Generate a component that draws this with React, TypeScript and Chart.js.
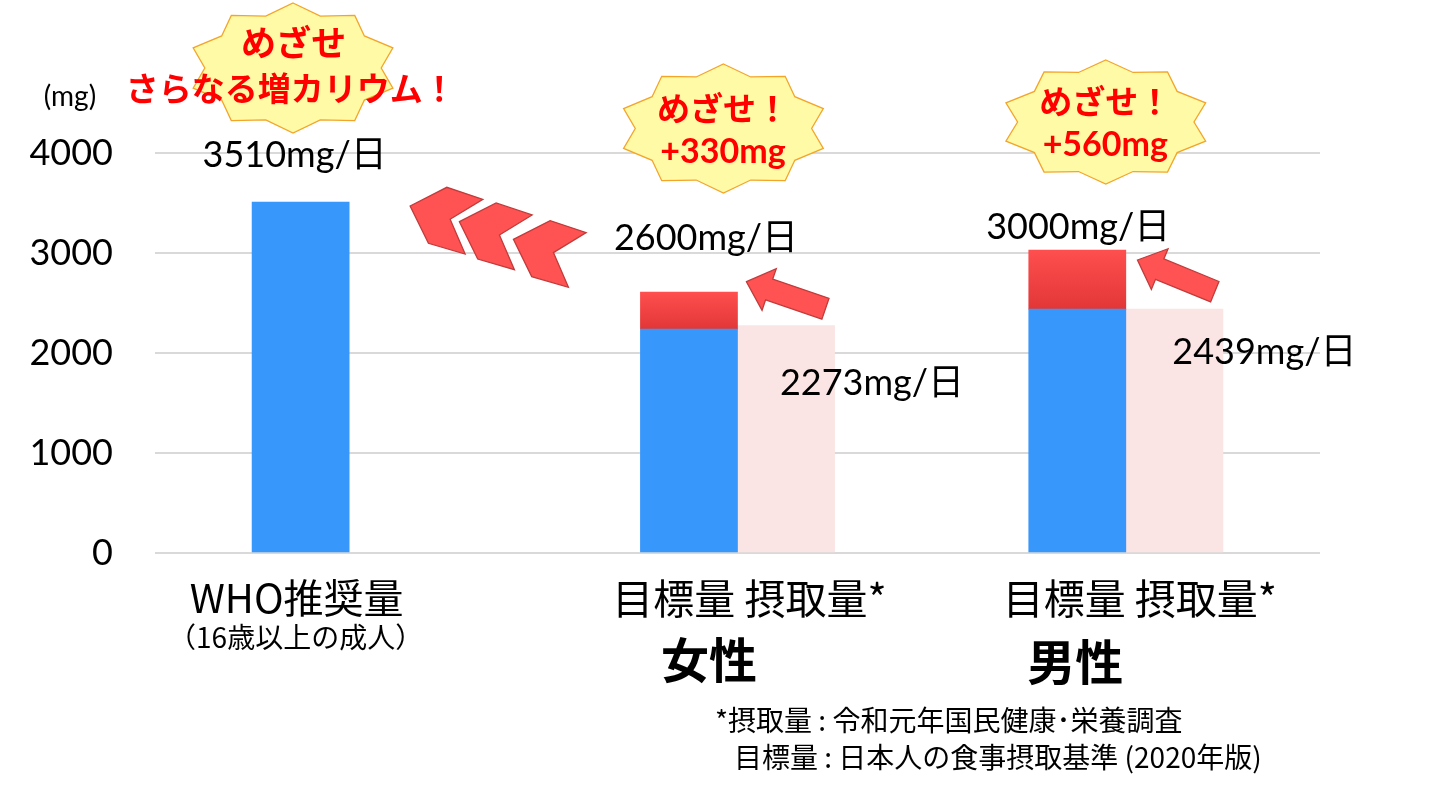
import { useEffect, useRef } from "react";
import { Chart, registerables } from "chart.js";

Chart.register(...registerables);

// ---- data ----
const categories = ["", "WHO推奨量", "", "", "", "女性 目標量", "女性 摂取量", "", "", "男性 目標量", "男性 摂取量", ""];
const baseValues = [null, 3510, null, null, null, 2240, null, null, null, 2439, null, null];
const increaseValues = [null, null, null, null, null, 370, null, null, null, 590, null, null];
const intakeValues = [null, null, null, null, null, null, 2273, null, null, null, 2439, null];
const yTickValues = [0, 1000, 2000, 3000, 4000];
const valueLabels = ["3510mg/日", "2600mg/日", "3000mg/日", "2273mg/日", "2439mg/日"];
const burstTexts = [
  ["めざせ", "さらなる増カリウム！"],
  ["めざせ！", "+330mg"],
  ["めざせ！", "+560mg"],
];
const footnotes = ["*摂取量 : 令和元年国民健康･栄養調査", "目標量 : 日本人の食事摂取基準 (2020年版)"];

const BLUE = "#3797fb";
const PINK = "#fbe4e4";
const NUM_FONT = "Lato, 'Noto Sans CJK JP', sans-serif";
const JP_FONT = "'Noto Sans CJK JP', sans-serif";

function drawStar(ctx: CanvasRenderingContext2D, cx: number, cy: number, rx: number, ry: number) {
  const n = 10;
  const inner = 0.84;
  ctx.beginPath();
  for (let k = 0; k < 2 * n; k++) {
    const a = -Math.PI / 2 + (k * Math.PI) / n;
    const r = k % 2 === 0 ? 1 : inner;
    const px = cx + Math.cos(a) * rx * r;
    const py = cy + Math.sin(a) * ry * r;
    if (k === 0) ctx.moveTo(px, py);
    else ctx.lineTo(px, py);
  }
  ctx.closePath();
  ctx.fillStyle = "#fffaa6";
  ctx.fill();
  ctx.strokeStyle = "#f3a52a";
  ctx.lineWidth = 1.3;
  ctx.stroke();
}

function drawChevron(ctx: CanvasRenderingContext2D, tx: number, ty: number) {
  const pts = [
    [0, 0],
    [36.7, -18.7],
    [72.7, -6.7],
    [40, 13.3],
    [55, 48],
    [18.3, 37.3],
  ];
  ctx.beginPath();
  pts.forEach(([dx, dy], i) => (i === 0 ? ctx.moveTo(tx + dx, ty + dy) : ctx.lineTo(tx + dx, ty + dy)));
  ctx.closePath();
  ctx.fillStyle = "#ff5353";
  ctx.fill();
  ctx.strokeStyle = "#c23b3b";
  ctx.lineWidth = 1.3;
  ctx.stroke();
}

function drawBlockArrow(ctx: CanvasRenderingContext2D, tipX: number, tipY: number, tailX: number, tailY: number) {
  const dx = tipX - tailX;
  const dy = tipY - tailY;
  const len = Math.hypot(dx, dy);
  const ux = dx / len;
  const uy = dy / len;
  const nx = -uy;
  const ny = ux;
  const headLen = 24;
  const headHalf = 22;
  const shaftHalf = 11;
  const hx = tipX - ux * headLen;
  const hy = tipY - uy * headLen;
  const pts = [
    [tipX, tipY],
    [hx + nx * headHalf, hy + ny * headHalf],
    [hx + nx * shaftHalf, hy + ny * shaftHalf],
    [tailX + nx * shaftHalf, tailY + ny * shaftHalf],
    [tailX - nx * shaftHalf, tailY - ny * shaftHalf],
    [hx - nx * shaftHalf, hy - ny * shaftHalf],
    [hx - nx * headHalf, hy - ny * headHalf],
  ];
  ctx.beginPath();
  pts.forEach(([px, py], i) => (i === 0 ? ctx.moveTo(px, py) : ctx.lineTo(px, py)));
  ctx.closePath();
  ctx.fillStyle = "#ff5353";
  ctx.fill();
  ctx.strokeStyle = "#c23b3b";
  ctx.lineWidth = 1.3;
  ctx.stroke();
}

const annotationPlugin = {
  id: "annotations",
  afterDatasetsDraw(chart: any) {
    const ctx: CanvasRenderingContext2D = chart.ctx;
    const xs = chart.scales.x;
    const ys = chart.scales.y;
    const X = (i: number, dx = 0) => xs.getPixelForValue(i) + dx;
    const Y = (v: number) => ys.getPixelForValue(v);
    ctx.save();

    // chevrons (WHO)
    const c0x = X(1, 109.5);
    const c0y = Y(3470);
    drawChevron(ctx, c0x, c0y);
    drawChevron(ctx, c0x + 49.3, c0y + 15.7);
    drawChevron(ctx, c0x + 103.3, c0y + 33.3);

    // block arrows
    drawBlockArrow(ctx, X(5, 57.5), Y(2713), X(5, 136.5), Y(2443));
    drawBlockArrow(ctx, X(9, 60.2), Y(2930), X(9, 137.5), Y(2613));

    // starbursts
    drawStar(ctx, X(1, -7.6), Y(4850), 105, 65);
    drawStar(ctx, X(5, 34.5), Y(4245), 105, 64.5);
    drawStar(ctx, X(9, 28.5), Y(4310), 105, 62);

    ctx.fillStyle = "#ff0000";
    ctx.textAlign = "center";
    ctx.textBaseline = "middle";
    ctx.font = `bold 35px ${JP_FONT}`;
    ctx.fillText(burstTexts[0][0], X(1, -7), Y(5100));
    ctx.font = `bold 33px ${JP_FONT}`;
    ctx.fillText(burstTexts[0][1], X(1, -10), Y(4650));

    ctx.font = `bold 33px ${JP_FONT}`;
    ctx.fillText(burstTexts[1][0], X(5, 34), Y(4450));
    ctx.font = `bold 34px ${NUM_FONT}`;
    ctx.fillText(burstTexts[1][1], X(5, 34), Y(4010));

    ctx.font = `bold 33px ${JP_FONT}`;
    ctx.fillText(burstTexts[2][0], X(9, 28), Y(4520));
    ctx.font = `bold 34px ${NUM_FONT}`;
    ctx.fillText(burstTexts[2][1], X(9, 28), Y(4080));

    // value labels
    ctx.fillStyle = "#000";
    ctx.font = `36px ${NUM_FONT}`;
    ctx.fillText(valueLabels[0], X(1, -6), Y(3975));
    ctx.fillText(valueLabels[1], X(5, 17), Y(3150));
    ctx.fillText(valueLabels[2], X(9, 1), Y(3260));
    ctx.fillText(valueLabels[3], X(6, 86), Y(1700));
    ctx.fillText(valueLabels[4], X(10, 90), Y(2010));

    // unit
    ctx.font = `28px ${NUM_FONT}`;
    ctx.fillText("(mg)", 70, Y(4560));

    // x-axis labels
    ctx.font = `40px ${JP_FONT}`;
    ctx.fillText("WHO推奨量", X(1, -4), Y(-450));
    ctx.font = `28px ${JP_FONT}`;
    ctx.fillText("（16歳以上の成人）", X(1, -5), Y(-840));

    ctx.font = `41px ${JP_FONT}`;
    ctx.fillText("目標量 摂取量*", X(5.5, 12), Y(-450));
    ctx.fillText("目標量 摂取量*", X(9.5, 14), Y(-450));
    ctx.font = `bold 48px ${JP_FONT}`;
    ctx.fillText("女性", X(5, 20), Y(-1070));
    ctx.fillText("男性", X(9, -2), Y(-1090));

    // footnotes
    ctx.textAlign = "left";
    ctx.font = `28px ${JP_FONT}`;
    ctx.fillText(footnotes[0], 715, Y(-1670));
    ctx.fillText(footnotes[1], 734, Y(-2040));

    ctx.restore();
  },
};

export default function App() {
  const canvasRef = useRef<HTMLCanvasElement | null>(null);

  useEffect(() => {
    document.body.style.margin = "0";
    const canvas = canvasRef.current;
    if (!canvas) return;
    const redGradient = (ctx: any) => {
      const chart = ctx.chart;
      const ys = chart.scales && chart.scales.y;
      if (!ys || ctx.type !== "data") return "#f04545";
      const i = ctx.dataIndex;
      const base = (baseValues[i] as number) ?? 0;
      const inc = (increaseValues[i] as number) ?? 0;
      const top = ys.getPixelForValue(base + inc);
      const bot = ys.getPixelForValue(base);
      if (!isFinite(top) || !isFinite(bot) || top === bot) return "#f04545";
      const g = chart.ctx.createLinearGradient(0, top, 0, bot);
      g.addColorStop(0, "#ff4f4f");
      g.addColorStop(1, "#e23636");
      return g;
    };
    const chart = new Chart(canvas, {
      type: "bar",
      data: {
        labels: categories,
        datasets: [
          { label: "base", data: baseValues as any, backgroundColor: BLUE, stack: "a" },
          { label: "increase", data: increaseValues as any, backgroundColor: redGradient as any, stack: "a" },
          { label: "intake", data: intakeValues as any, backgroundColor: PINK, stack: "a" },
        ],
      },
      options: {
        animation: false,
        responsive: false,
        maintainAspectRatio: false,
        layout: { padding: { top: 153, right: 127, bottom: 242, left: 0 } },
        datasets: { bar: { barPercentage: 1, categoryPercentage: 1 } },
        plugins: { legend: { display: false }, tooltip: { enabled: false } },
        scales: {
          x: { display: false, stacked: true },
          y: {
            stacked: true,
            min: 0,
            max: 4000,
            afterFit: (scale: any) => {
              scale.width = 155;
            },
            afterBuildTicks: (scale: any) => {
              scale.ticks = yTickValues.map((v) => ({ value: v }));
            },
            ticks: {
              color: "#000",
              padding: 42,
              font: { family: NUM_FONT, size: 36 },
              callback: (v: any) => String(v),
            },
            grid: { color: "#d9d9d9", lineWidth: 2, drawTicks: false },
            border: { display: false },
          },
        },
      },
      plugins: [annotationPlugin],
    });
    return () => chart.destroy();
  }, []);

  return (
    <div style={{ position: "absolute", left: 0, top: 0, width: 1447, height: 795 }}>
      <canvas ref={canvasRef} width={1447} height={795} style={{ display: "block" }} />
    </div>
  );
}
